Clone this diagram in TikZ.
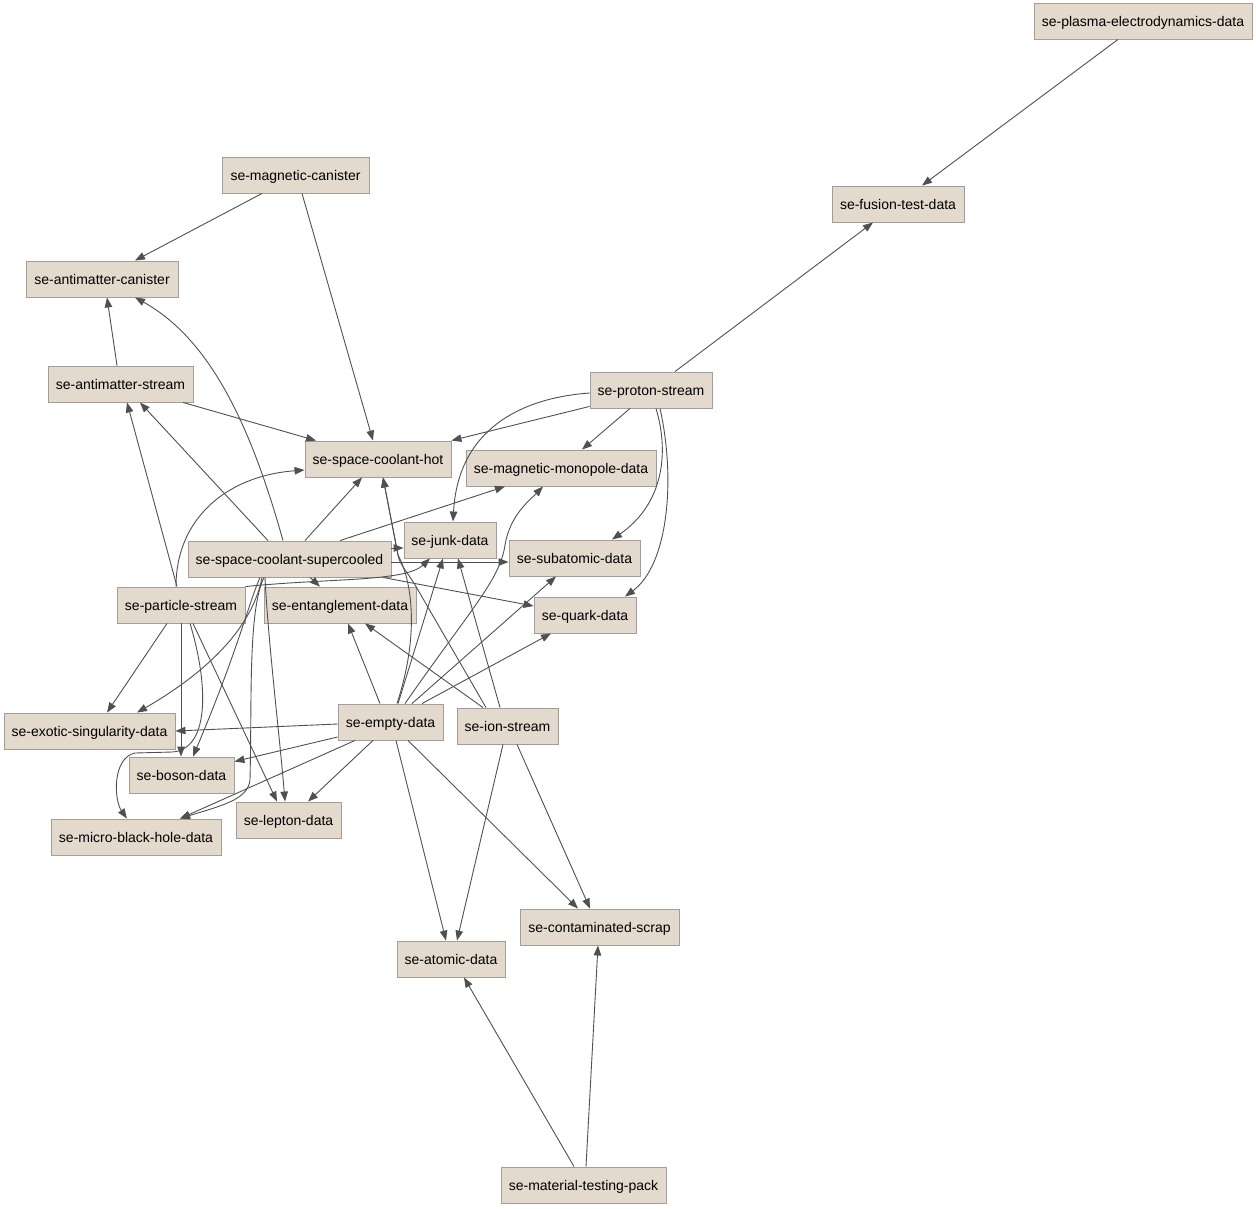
\documentclass[tikz,border=0pt]{standalone}
\usepackage{fontspec}
\setmainfont{Liberation Sans}
\usetikzlibrary{arrows.meta}
\definecolor{boxfill}{HTML}{E4D9CD}
\definecolor{boxline}{HTML}{A39C98}
\definecolor{edgecol}{HTML}{505050}
\tikzset{
  box/.style={draw=boxline, fill=boxfill, line width=0.9pt, inner sep=0pt, minimum height=36pt, text height=11pt, text depth=0pt, font=\fontsize{14}{16}\selectfont, anchor=center},
  edge/.style={draw=edgecol, line width=0.9pt, -{Triangle[length=10pt,width=7.5pt]}}
}
\begin{document}
\begin{tikzpicture}[x=1pt,y=-1pt]
\useasboundingbox (0,0) rectangle (1256,1208);
\node[box, minimum width=218pt] (plasma) at (1143,21) {se-plasma-electrodynamics-data};
\node[box, minimum width=132pt] (fusion) at (898,204) {se-fusion-test-data};
\node[box, minimum width=147pt] (magcan) at (295.5,175) {se-magnetic-canister};
\node[box, minimum width=152pt] (amcan) at (102,279) {se-antimatter-canister};
\node[box, minimum width=145pt] (amstream) at (120.5,384) {se-antimatter-stream};
\node[box, minimum width=122pt] (proton) at (651,390) {se-proton-stream};
\node[box, minimum width=146pt] (hot) at (378,459) {se-space-coolant-hot};
\node[box, minimum width=190pt] (mono) at (561,468) {se-magnetic-monopole-data};
\node[box, minimum width=92pt] (junk) at (450,540) {se-junk-data};
\node[box, minimum width=203pt] (super) at (289.5,559) {se-space-coolant-supercooled};
\node[box, minimum width=131pt] (sub) at (574.5,558) {se-subatomic-data};
\node[box, minimum width=128pt] (particle) at (181,605) {se-particle-stream};
\node[box, minimum width=152pt] (ent) at (340,605) {se-entanglement-data};
\node[box, minimum width=102pt] (quark) at (585,615) {se-quark-data};
\node[box, minimum width=171pt] (exotic) at (89.5,731) {se-exotic-singularity-data};
\node[box, minimum width=105pt] (empty) at (390.5,722) {se-empty-data};
\node[box, minimum width=101pt] (ion) at (507.5,726) {se-ion-stream};
\node[box, minimum width=105pt] (boson) at (181.5,775) {se-boson-data};
\node[box, minimum width=170pt] (micro) at (136,837) {se-micro-black-hole-data};
\node[box, minimum width=105pt] (lepton) at (288.5,820) {se-lepton-data};
\node[box, minimum width=159pt] (scrap) at (599.5,927) {se-contaminated-scrap};
\node[box, minimum width=108pt] (atomic) at (451,959) {se-atomic-data};
\node[box, minimum width=165pt] (pack) at (583.5,1185) {se-material-testing-pack};

% top
\path[edge] ([xshift=-25pt]plasma.south) -- ([xshift=24pt]fusion.north);
\path[edge] ([xshift=24pt]proton.north) -- ([xshift=-25pt]fusion.south);
\path[edge] ([xshift=-33.5pt]magcan.south) -- ([xshift=33pt]amcan.north);
\path[edge] ([xshift=6.5pt]magcan.south) -- ([xshift=-5pt]hot.north);
\path[edge] ([xshift=-3.5pt]amstream.north) -- ([xshift=5pt]amcan.south);
\path[edge] ([xshift=62.5pt]amstream.south) -- ([xshift=-62pt]hot.north);
% supercooled
\path[edge] ([xshift=-6.5pt]super.north) .. controls (252,430) and (212,340) .. ([xshift=33pt]amcan.south);
\path[edge] ([xshift=-21.5pt]super.north) -- ([xshift=19.5pt]amstream.south);
\path[edge] ([xshift=15.5pt]super.north) -- ([xshift=-16pt]hot.south);
\path[edge] ([xshift=50.5pt]super.north) -- ([xshift=-56pt]mono.south);
\path[edge] ([yshift=11pt]super.east) -- ([yshift=-8pt]junk.west);
\path[edge] ([yshift=-3pt]super.east) -- ([yshift=-4pt]sub.west);
\path[edge] ([xshift=93.5pt]super.south) -- ([yshift=9pt]quark.west);
\path[edge] ([xshift=20.5pt]super.south) -- ([xshift=-20pt]ent.north);
\path[edge] ([xshift=-27.5pt]super.south) .. controls (250,640) and (185,685) .. ([xshift=47.5pt]exotic.north);
\path[edge] ([xshift=-29.5pt]super.south) .. controls (248,605) and (238,650) .. ([xshift=11.5pt]boson.north);
\path[edge] ([xshift=-25.5pt]super.south) .. controls (248,610) and (252,700) .. (250,780) .. controls (248,800) and (220,806) .. ([xshift=44pt]micro.north);
\path[edge] ([xshift=-24.5pt]super.south) .. controls (268,640) and (280,740) .. ([xshift=-3.5pt]lepton.north);
% particle
\path[edge] ([xshift=-4pt]particle.north) -- ([xshift=6.5pt]amstream.south);
\path[edge] ([xshift=-5pt]particle.north) .. controls (176,520) and (225,476) .. ([yshift=-11pt]hot.west);
\path[edge] (particle.north east) .. controls (330,578) and (405,582) .. ([xshift=-20pt]junk.south);
\path[edge] ([xshift=-14pt]particle.south) -- ([xshift=17.5pt]exotic.north);
\path[edge] (particle.south) -- ([xshift=-0.5pt]boson.north);
\path[edge] ([xshift=9pt]particle.south) .. controls (210,690) and (208,750) .. (172,752) -- (135,753) .. controls (112,758) and (114,800) .. ([xshift=-9pt]micro.north);
\path[edge] ([xshift=12pt]particle.south) -- ([xshift=-11.5pt]lepton.north);
% proton
\path[edge] ([yshift=2pt]proton.south west) -- (hot.north east);
\path[edge] ([yshift=-3pt]proton.west) .. controls (520,398) and (458,430) .. ([xshift=3pt]junk.north);
\path[edge] ([xshift=-21pt]proton.south) -- ([xshift=21pt]mono.north);
\path[edge] ([xshift=5pt]proton.south) .. controls (670,455) and (662,505) .. ([xshift=37.5pt]sub.north);
\path[edge] ([xshift=9pt]proton.south) .. controls (676,480) and (668,565) .. ([xshift=40pt]quark.north);
% empty
\path[edge] ([xshift=6.5pt]empty.north) .. controls (418,640) and (414,585) .. (398,555) -- ([xshift=5pt]hot.south);
\path[edge] ([xshift=-10.5pt]empty.north) -- ([xshift=8pt]ent.south);
\path[edge] ([xshift=7.5pt]empty.north) -- ([xshift=-7pt]junk.south);
\path[edge] ([xshift=14.5pt]empty.north) .. controls (470,610) and (500,580) .. (505,545) .. controls (510,515) and (530,500) .. ([xshift=-18pt]mono.south);
\path[edge] ([xshift=21.5pt]empty.north) -- ([xshift=-18.5pt]sub.south);
\path[edge] ([xshift=31.5pt]empty.north) -- ([xshift=-34pt]quark.south);
\path[edge] ([yshift=-2pt]empty.west) -- (exotic.east);
\path[edge] ([yshift=-15pt]empty.west) -- ([yshift=-5pt]boson.north east);
\path[edge] ([xshift=-35.5pt]empty.south) -- ([xshift=44pt]micro.north);
\path[edge] ([xshift=-17.5pt]empty.south) -- ([xshift=19.5pt]lepton.north);
\path[edge] ([xshift=5.5pt]empty.south) -- ([xshift=-5pt]atomic.north);
\path[edge] ([xshift=17.5pt]empty.south) -- ([xshift=-21.5pt]scrap.north);
% ion
\path[edge] ([xshift=-21.5pt]ion.north) -- (418,590) .. controls (408,572) and (400,566) .. (398,555) -- ([xshift=5pt]hot.south);
\path[edge] ([xshift=-7.5pt]ion.north) -- ([xshift=8pt]junk.south);
\path[edge] ([xshift=-24.5pt]ion.north) -- ([xshift=25pt]ent.south);
\path[edge] ([xshift=-4.5pt]ion.south) -- ([xshift=6pt]atomic.north);
\path[edge] ([xshift=9.5pt]ion.south) -- ([xshift=-9.5pt]scrap.north);
% pack
\path[edge] ([xshift=-9.5pt]pack.north) -- ([xshift=13pt]atomic.south);
\path[edge] ([xshift=2.5pt]pack.north) -- ([xshift=-1.5pt]scrap.south);
\end{tikzpicture}
\end{document}
